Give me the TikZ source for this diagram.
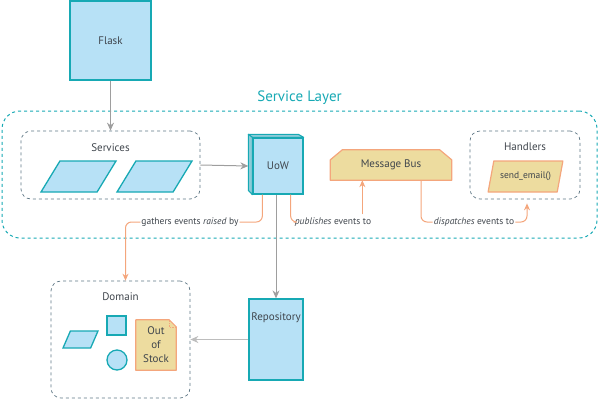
\documentclass[tikz,border=0pt]{standalone}
\usepackage{fontspec}
\setmainfont{PT Sans}
\usepackage{tikz}
\usetikzlibrary{shapes.geometric,arrows.meta,backgrounds}

\definecolor{layerteal}{HTML}{17A9B4}
\definecolor{boxfill}{HTML}{B7E1F6}
\definecolor{boxside}{HTML}{8CCBD8}
\definecolor{busfill}{HTML}{EDDC9F}
\definecolor{busline}{HTML}{F4A67C}
\definecolor{flowgray}{HTML}{9E9E9E}
\definecolor{flowlight}{HTML}{BDBDBD}
\definecolor{groupgray}{HTML}{5E7684}
\definecolor{inkgray}{HTML}{3F454C}

\begin{document}
\begin{tikzpicture}[x=1pt,y=-1pt,
    every node/.style={text=inkgray,font=\fontsize{11}{14}\selectfont},
    bluebox/.style={draw=layerteal,fill=boxfill,line width=1.3pt,inner sep=0pt},
    groupbox/.style={draw=groupgray,dashed,rounded corners=10pt,line width=0.7pt,inner sep=0pt},
    grouptitle/.style={anchor=north,yshift=-9pt},
    slantbox/.style={trapezium,trapezium left angle=63,trapezium right angle=117,
      trapezium stretches=true,minimum width=75pt,minimum height=31pt,inner sep=2pt},
    yellowbox/.style={fill=busfill,draw=busline,line width=1.2pt,line join=round},
    flow/.style={draw=flowgray,line width=1pt,-{Stealth[length=8pt,width=7pt]}},
    eventline/.style={draw=busline,line width=1pt,rounded corners=6pt},
    eventtip/.style={-{Stealth[length=7pt,width=6pt]}},
    eventlabel/.style={fill=white,inner sep=1pt,font=\fontsize{9.5}{11}\selectfont},
  ]
    \useasboundingbox (0,0) rectangle (602,400);

    % Draw the web entrypoint
    \node[bluebox,minimum width=81pt,minimum height=79pt] (flask) at (110.5,40.5) {Flask};

    % Draw the service layer around the middle row
    \node[draw=layerteal,dashed,line width=1pt,rounded corners=18pt,inner sep=0pt,
      minimum width=595pt,minimum height=127pt,
      label={[text=layerteal,font=\fontsize{15}{18}\selectfont,yshift=2pt]north:Service Layer}]
      (layer) at (299.5,174.5) {};

    % Services group with its two handlers
    \node[groupbox,minimum width=179pt,minimum height=68pt,
      label={[grouptitle]north:Services}] (services) at (110.5,165) {};
    \node[slantbox,bluebox,inner sep=2pt] (serviceA) at (78.5,176.5) {};
    \node[slantbox,bluebox,inner sep=2pt] (serviceB) at (154.5,176.5) {};

    % Unit of work, drawn as a box with some depth
    \node[bluebox,minimum width=50pt,minimum height=56pt] (uow) at (278,166) {UoW};
    \filldraw[fill=boxside,draw=layerteal,line width=1.1pt,line join=round]
      (uow.north west) -- ++(-4,-3) -- ++(50,0) -- (uow.north east) -- cycle;
    \filldraw[fill=boxside,draw=layerteal,line width=1.1pt,line join=round]
      (uow.north west) -- ++(-4,-3) -- ++(0,56) -- (uow.south west) -- cycle;

    % Message bus with cut top corners
    \node[minimum width=121pt,minimum height=30pt,inner sep=0pt] (bus) at (391,165) {Message Bus};
    \begin{pgfonlayer}{background}
      \filldraw[yellowbox] (bus.south west) -- ([yshift=-10pt]bus.north west)
        -- ([xshift=12pt]bus.north west) -- ([xshift=-12pt]bus.north east)
        -- ([yshift=-10pt]bus.north east) -- (bus.south east) -- cycle;
    \end{pgfonlayer}

    % Handlers group
    \node[groupbox,minimum width=110pt,minimum height=68pt,
      label={[grouptitle]north:Handlers}] (handlers) at (525,165) {};
    \node[slantbox,yellowbox,trapezium left angle=69,trapezium right angle=111,
      font=\fontsize{9.5}{11}\selectfont] (sendmail) at (525.5,176.5) {send\_email()};

    % Repository
    \node[bluebox,minimum width=54pt,minimum height=81pt,
      label={[grouptitle,yshift=-2pt]north:Repository}] (repo) at (276,339.5) {};

    % Domain group with its model objects
    \node[groupbox,minimum width=139pt,minimum height=117pt,
      label={[grouptitle]north:Domain}] (domain) at (120.5,339.5) {};
    \node[slantbox,bluebox,inner sep=2pt,trapezium left angle=70,trapezium right angle=110,
      minimum width=35pt,minimum height=17pt] (entity) at (80.5,339.5) {};
    \node[bluebox,minimum size=19pt] (product) at (116.5,325.5) {};
    \node[bluebox,circle,minimum size=20pt] (value) at (117,360) {};
    \node[align=center,minimum width=40pt,minimum height=50pt,inner sep=0pt,
      font=\fontsize{11}{14}\selectfont] (stock) at (156,345) {Out\\of\\Stock};
    \begin{pgfonlayer}{background}
      \filldraw[yellowbox] (stock.south west) -- (stock.north west)
        -- ([xshift=-7pt]stock.north east) -- ([yshift=-7pt]stock.north east)
        -- (stock.south east) -- cycle;
      \draw[busline,line width=0.6pt,densely dotted] ([xshift=-7pt]stock.north east)
        -- ++(0,7) -- ([yshift=-7pt]stock.north east);
    \end{pgfonlayer}

    % Gray call arrows
    \draw[flow] (flask.south) -- (services.north);
    \draw[flow] (services.east) -- ([xshift=-4pt]uow.west);
    \draw[flow] (repo.north |- uow.south) -- (repo.north);
    \draw[flow,draw=flowlight,line width=1.8pt] (repo.west) -- (repo.west -| domain.east);

    % Event labels
    \node[eventlabel] (gathers) at (190,222) {gathers events \textit{raised} by};
    \node[eventlabel] (publishes) at (333,222) {\textit{publishes} events to};
    \node[eventlabel] (dispatches) at (474,222) {\textit{dispatches} events to};

    % Orange event paths
    \draw[eventline] ([xshift=10pt]uow.south west) |- (gathers.east);
    \draw[eventline,eventtip] (gathers.west) -| ([xshift=5pt]domain.north);
    \draw[eventline] ([xshift=-13pt]uow.south east) |- (publishes.west);
    \coordinate (pubfoot) at ([xshift=-10pt,yshift=2pt]publishes.north east);
    \draw[eventline,eventtip] (pubfoot) -- (pubfoot |- bus.south);
    \draw[eventline] ([xshift=30pt]bus.south) |- (dispatches.west);
    \draw[eventline,eventtip] (dispatches.east) -| ([xshift=2pt,yshift=-4pt]handlers.south);
\end{tikzpicture}
\end{document}
